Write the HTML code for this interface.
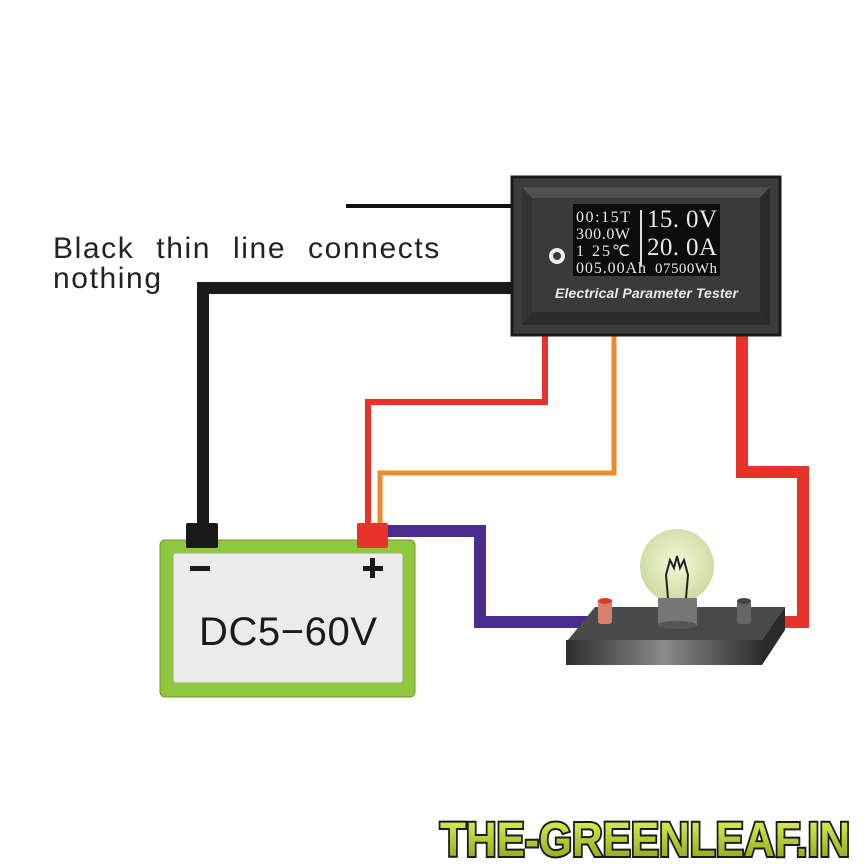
<!DOCTYPE html>
<html><head><meta charset="utf-8"><style>
html,body{margin:0;padding:0;background:#fff}
svg{display:block}
</style></head><body>
<svg width="864" height="864" viewBox="0 0 864 864" xmlns="http://www.w3.org/2000/svg">
<defs>
<linearGradient id="slab" x1="0" x2="1" y1="0" y2="0">
<stop offset="0" stop-color="#2e2e2e"/><stop offset="0.5" stop-color="#8a8a8a"/><stop offset="1" stop-color="#2e2e2e"/>
</linearGradient>
<radialGradient id="bulb" cx="0.5" cy="0.45" r="0.55">
<stop offset="0" stop-color="#f4f8d8"/><stop offset="1" stop-color="#cdd9a0"/>
</radialGradient>
<linearGradient id="logo" x1="0" x2="0" y1="0" y2="1">
<stop offset="0" stop-color="#e6f55a"/><stop offset="1" stop-color="#7fa010"/>
</linearGradient>
</defs>
<rect width="864" height="864" fill="#fff"/>

<text x="53" y="258" font-family="Liberation Sans, sans-serif" font-size="30" fill="#222" word-spacing="12" letter-spacing="1.6">Black thin line connects</text>
<text x="53" y="288" font-family="Liberation Sans, sans-serif" font-size="30" fill="#222" letter-spacing="1.6">nothing</text>

<line x1="346" y1="206" x2="514" y2="206" stroke="#111" stroke-width="4"/>
<polyline points="514,288 203,288 203,528" fill="none" stroke="#1a1a1a" stroke-width="12"/>
<polyline points="545,330 545,402 368,402 368,528" fill="none" stroke="#e8332a" stroke-width="6"/>
<polyline points="614,330 614,473 380,473 380,528" fill="none" stroke="#ef8a2c" stroke-width="5"/>
<polyline points="742,330 742,472 803,472 803,622 752,622" fill="none" stroke="#e8332a" stroke-width="12"/>
<polyline points="388,531 480,531 480,622 600,622" fill="none" stroke="#4b2d8e" stroke-width="12"/>

<rect x="512" y="177" width="268" height="158" fill="#3c3c3c" stroke="#1a1a1a" stroke-width="3"/>
<polygon points="522,187 770,187 760,198 532,198" fill="#505050"/>
<polygon points="522,325 770,325 760,312 532,312" fill="#2c2c2c"/>
<polygon points="522,187 532,198 532,312 522,325" fill="#333"/>
<polygon points="770,187 760,198 760,312 770,325" fill="#2a2a2a"/>
<rect x="532" y="198" width="228" height="114" fill="#3a3a3a"/>
<rect x="573" y="204" width="147" height="72" fill="#0c0c0c"/>
<line x1="641" y1="210" x2="641" y2="266" stroke="#ddd" stroke-width="2"/>
<g font-family="Liberation Serif, serif" fill="#e8e8e8">
<text x="576" y="222" font-size="16" textLength="54">00:15T</text>
<text x="576" y="239" font-size="16" textLength="54">300.0W</text>
<text x="576" y="256" font-size="16" textLength="54">1   25℃</text>
<text x="576" y="273" font-size="16" textLength="70">005.00Ah</text>
<text x="647" y="227" font-size="25" textLength="70">15. 0V</text>
<text x="647" y="255" font-size="25" textLength="70">20. 0A</text>
<text x="655" y="273" font-size="15" textLength="62">07500Wh</text>
<text x="555" y="298" font-size="14" font-style="italic" font-weight="bold" font-family="Liberation Sans, sans-serif" textLength="183">Electrical Parameter Tester</text>
</g>
<circle cx="557" cy="256" r="6" fill="none" stroke="#eee" stroke-width="4"/>

<rect x="160" y="540" width="255" height="157" rx="5" fill="#8fc73e" stroke="#6f9a2a" stroke-width="1"/>
<rect x="173" y="553" width="230" height="130" rx="3" fill="#ebebeb" stroke="#9ab860"/>
<rect x="186" y="523" width="32" height="25" rx="2" fill="#1a1a1a"/>
<rect x="357" y="523" width="31" height="25" rx="2" fill="#e8332a"/>
<rect x="190" y="566" width="20" height="5" fill="#1a1a1a"/>
<rect x="363" y="566" width="20" height="5" fill="#1a1a1a"/>
<rect x="370" y="558" width="5" height="20" fill="#1a1a1a"/>
<text x="288" y="645" text-anchor="middle" font-family="Liberation Sans, sans-serif" font-size="40" fill="#1a1a1a" textLength="178">DC5−60V</text>

<polygon points="595,607 785,607 762,640 568,640" fill="#4a4a4a"/>
<rect x="566" y="640" width="196" height="25" fill="url(#slab)"/>
<polygon points="762,640 785,607 785,630 762,665" fill="#2a2a2a"/>
<circle cx="677" cy="566" r="37" fill="url(#bulb)"/>
<polyline points="668,598 666,575 670,560 674,568 677,556 680,568 684,560 688,575 686,598" fill="none" stroke="#222" stroke-width="2"/>
<rect x="658" y="598" width="39" height="27" fill="#777"/>
<ellipse cx="677" cy="625" rx="19.5" ry="4" fill="#555"/>
<rect x="598" y="600" width="14" height="24" rx="3" fill="#d88070"/>
<ellipse cx="605" cy="601" rx="7" ry="3" fill="#e23a2a"/>
<rect x="737" y="600" width="14" height="24" rx="3" fill="#666"/>
<ellipse cx="744" cy="601" rx="7" ry="3" fill="#444"/>

<text x="440" y="856" font-family="Liberation Sans, sans-serif" font-weight="bold" font-size="48" fill="url(#logo)" stroke="#1a1a1a" stroke-width="4" paint-order="stroke" textLength="410" lengthAdjust="spacingAndGlyphs">THE-GREENLEAF.IN</text>
</svg>
</body></html>
